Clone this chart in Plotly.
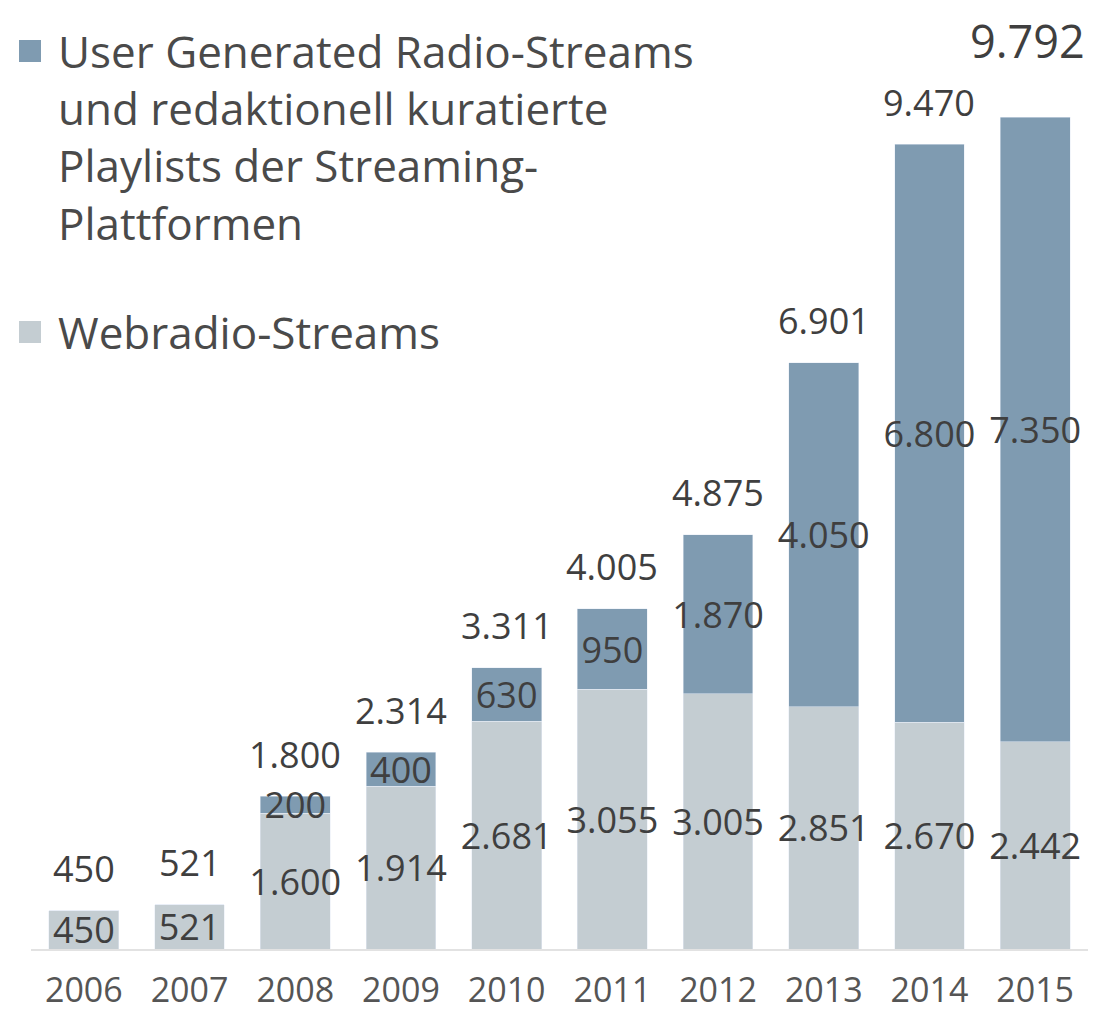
import plotly.graph_objects as go

years = ["2006", "2007", "2008", "2009", "2010", "2011", "2012", "2013", "2014", "2015"]
webradio = [450, 521, 1600, 1914, 2681, 3055, 3005, 2851, 2670, 2442]
user_generated = [0, 0, 200, 400, 630, 950, 1870, 4050, 6800, 7350]
totals = [450, 521, 1800, 2314, 3311, 4005, 4875, 6901, 9470, 9792]

legend_ug = "User Generated Radio-Streams<br>und redaktionell kuratierte<br>Playlists der Streaming-<br>Plattformen"
legend_web = "Webradio-Streams"

DARK = "#7f9bb1"
LIGHT = "#c4cdd2"
TXT = "#3f3f3f"
FONT = "Open Sans"


def de(v):
    return f"{v:,}".replace(",", ".")


# page has an 8px body margin: figure sized to fit the window
OFF = 8
W, H = 1099 - OFF, 1011 - OFF
ML, MR, MT, MB = 23, 11, 0, 62
PW, PH = W - ML - MR, H - MT - MB


def px(x):  # page x -> paper
    return (x - OFF - ML) / PW


def py(y):  # page y -> paper
    return (H - MB - (y - OFF)) / PH


fig = go.Figure()
fig.add_trace(go.Bar(
    x=years, y=webradio, name=legend_web, marker_color=LIGHT,
    text=[de(v) if v else "" for v in webradio],
    textposition="inside", insidetextanchor="middle", textangle=0,
    constraintext="none", cliponaxis=False,
    textfont=dict(family=FONT, size=36, color=TXT), showlegend=False,
))
fig.add_trace(go.Bar(
    x=years, y=user_generated, name=legend_ug, marker_color=DARK,
    text=[de(v) if v else "" for v in user_generated],
    textposition="inside", insidetextanchor="middle", textangle=0,
    constraintext="none", cliponaxis=False,
    textfont=dict(family=FONT, size=36, color=TXT), showlegend=False,
))

annotations = []
for i, t in enumerate(totals):
    big = i == len(totals) - 1
    annotations.append(dict(
        x=i, y=t, xref="x", yref="y", text=de(t), showarrow=False,
        yanchor="middle", yshift=77 if big else 42, xshift=-8 if big else 0,
        font=dict(family=FONT, size=45 if big else 36, color=TXT),
    ))

# legend (text + swatches)
annotations.append(dict(
    x=px(56), y=py(137), xref="paper", yref="paper", text=legend_ug,
    showarrow=False, xanchor="left", yanchor="middle", align="left",
    font=dict(family=FONT, size=44, color="#4a4a4a"),
))
annotations.append(dict(
    x=px(56), y=py(332), xref="paper", yref="paper", text=legend_web,
    showarrow=False, xanchor="left", yanchor="middle", align="left",
    font=dict(family=FONT, size=44, color="#4a4a4a"),
))
shapes = [
    dict(type="rect", xref="paper", yref="paper", x0=px(19), x1=px(41),
         y0=py(62), y1=py(40), fillcolor=DARK, line_width=0),
    dict(type="rect", xref="paper", yref="paper", x0=px(19), x1=px(41),
         y0=py(343), y1=py(321), fillcolor=LIGHT, line_width=0),
]

fig.update_layout(
    width=W, height=H, barmode="stack", bargap=0.34,
    margin=dict(l=ML, r=MR, t=MT, b=MB),
    paper_bgcolor="white", plot_bgcolor="white",
    annotations=annotations, shapes=shapes, showlegend=False,
    xaxis=dict(type="category", range=[-0.5, len(years) - 0.5], showline=True,
               linecolor="#e2e2e2", linewidth=2, ticks="", showgrid=False,
               ticklabelstandoff=10,
               tickfont=dict(family=FONT, size=34, color="#555555")),
    yaxis=dict(visible=False, range=[0, 11075], showgrid=False, zeroline=False),
)

fig.write_html("out.html")
